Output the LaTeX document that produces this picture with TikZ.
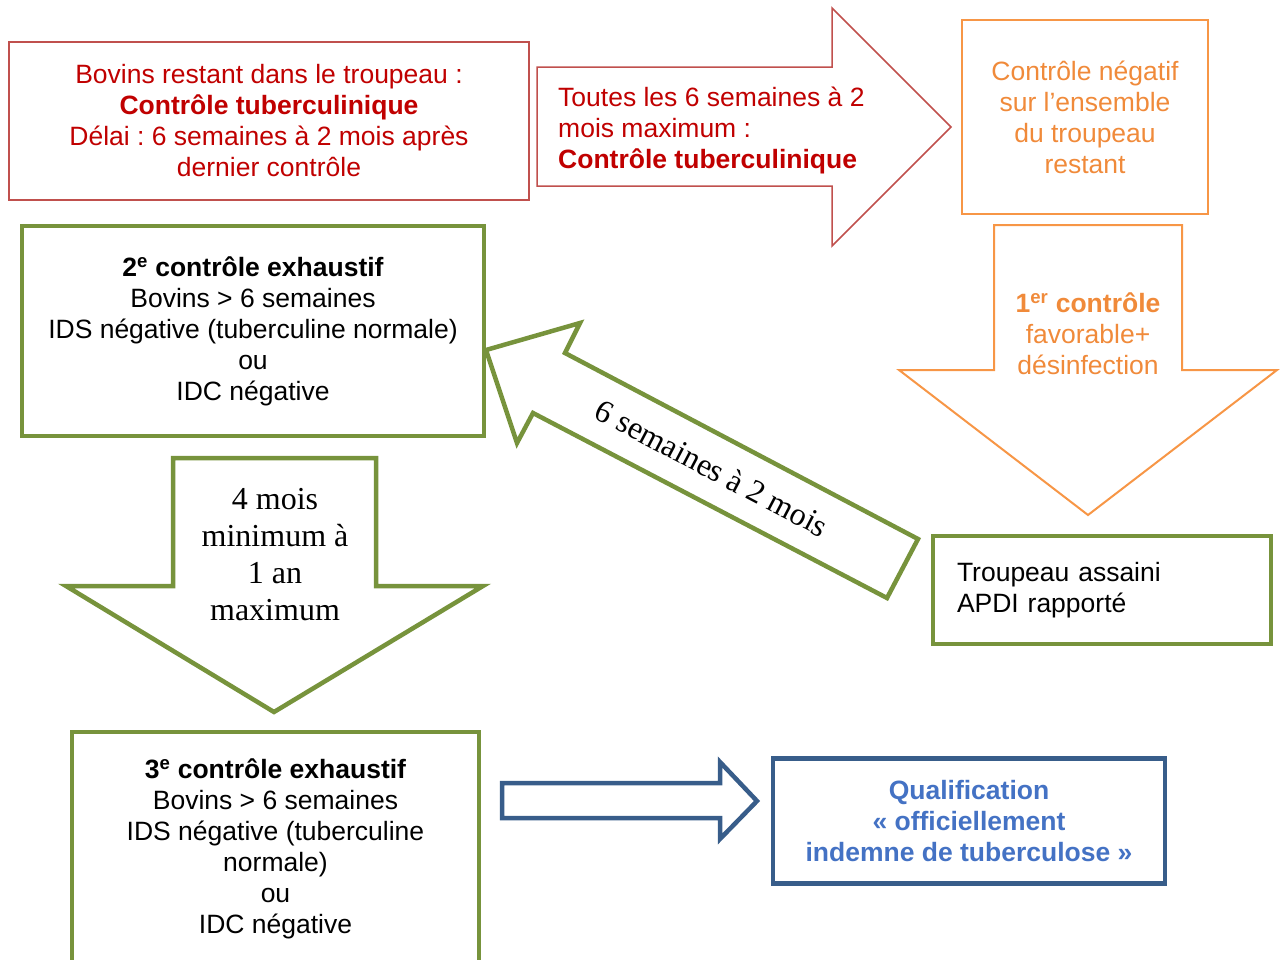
\documentclass[tikz,border=0pt]{standalone}
\usepackage{fontspec}
\setmainfont{Liberation Sans}
\newfontfamily\arrowserif{Liberation Serif}
\usepackage{xcolor}
\definecolor{boxred}{HTML}{C0504D}
\definecolor{txtred}{HTML}{C00000}
\definecolor{boxorange}{HTML}{F79646}
\definecolor{txtorange}{HTML}{F08A3A}
\definecolor{boxgreen}{HTML}{77933C}
\definecolor{boxblue}{HTML}{385D8A}
\definecolor{txtblue}{HTML}{4472C4}
\frenchspacing

\begin{document}
\begin{tikzpicture}[x=1pt, y=-1pt,
  every node/.style={font=\fontsize{26.5pt}{31pt}\selectfont, align=center, inner sep=0pt},
  redbox/.style={draw=boxred, line width=2pt, text=txtred},
  orangebox/.style={draw=boxorange, line width=2pt, text=txtorange},
  greenbox/.style={draw=boxgreen, line width=4.5pt},
  bluebox/.style={draw=boxblue, line width=4.5pt, text=txtblue, font=\fontsize{26.5pt}{31pt}\selectfont\bfseries},
  redarrow/.style={draw=boxred, line width=1.5pt},
  orangearrow/.style={draw=boxorange, line width=2pt},
  greenarrow/.style={draw=boxgreen, line width=4.5pt},
  bluearrow/.style={draw=boxblue, line width=4.5pt},
  serif/.style={font=\arrowserif\fontsize{32pt}{37pt}\selectfont}]
  \useasboundingbox (0,0) rectangle (1283,959);

  % top row
  \node[redbox, minimum width=520pt, minimum height=158pt] (bovins) at (269,121)
    {Bovins restant dans le troupeau :\\ \textbf{Contrôle tuberculinique}\\ Délai : 6 semaines à 2 mois après\\ dernier contrôle};
  \draw[redarrow] (537,67) -- (832,67) -- (832,8) -- (951,127) -- (832,246) -- (832,186) -- (537,186) -- cycle;
  \node[text=txtred, anchor=west, align=left] (toutes) at (558,130)
    {Toutes les 6 semaines à 2\\ mois maximum :\\ \textbf{Contrôle tuberculinique}};
  \node[orangebox, minimum width=246pt, minimum height=194pt] (negatif) at (1085,117)
    {Contrôle négatif\\ sur l’ensemble\\ du troupeau\\ restant};

  % right column
  \draw[orangearrow] (994,225) -- (1182,225) -- (1182,370) -- (1277,370) -- (1088,515) -- (899,370) -- (994,370) -- cycle;
  \node[text=txtorange] (premier) at (1088,334)
    {\textbf{1\textsuperscript{er} contrôle}\\ favorable+\\ désinfection};
  \node[greenbox, align=left, text width=290pt, inner xsep=24pt, minimum height=108pt] (assaini) at (1102,590)
    {Troupeau assaini\\ APDI rapporté};

  % back to the left
  \draw[greenarrow] (486,350) -- (580,323) -- (565,353) -- (918,539) -- (887,598) -- (533,413) -- (517,443) -- cycle;
  \node[serif, rotate=-27.8] (delai) at (712,468) {6 semaines à 2 mois};
  \node[greenbox, minimum width=462pt, minimum height=210pt] (second) at (253,331)
    {\textbf{2\textsuperscript{e} contrôle exhaustif}\\ Bovins > 6 semaines\\ IDS négative (tuberculine normale)\\ ou\\ IDC négative};

  % bottom
  \draw[greenarrow] (173,458) -- (376,458) -- (376,586) -- (483,586) -- (274,712) -- (66,586) -- (173,586) -- cycle;
  \node[serif] (attente) at (275,555) {4 mois\\ minimum à\\ 1 an\\ maximum};
  \node[greenbox, minimum width=407pt, minimum height=234pt] (third) at (275.5,849)
    {\textbf{3\textsuperscript{e} contrôle exhaustif}\\ Bovins > 6 semaines\\ IDS négative (tuberculine\\ normale)\\ ou\\ IDC négative};
  \draw[bluearrow] (502,783) -- (720,783) -- (720,762) -- (757,801) -- (720,839) -- (720,818) -- (502,818) -- cycle;
  \node[bluebox, minimum width=392pt, minimum height=125pt] (qualif) at (969,821)
    {Qualification\\ « officiellement\\ indemne de tuberculose »};
\end{tikzpicture}
\end{document}
